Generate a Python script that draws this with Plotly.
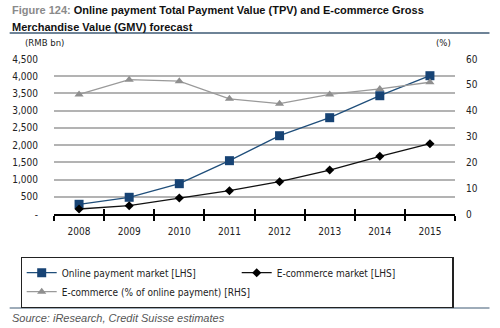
import plotly.graph_objects as go

years = ["2008", "2009", "2010", "2011", "2012", "2013", "2014", "2015"]
online_payment = [282, 485, 880, 1548, 2273, 2796, 3434, 4015]
ecommerce = [145, 241, 464, 677, 938, 1277, 1675, 2041]
ecom_pct = [46.3, 52.0, 51.4, 44.6, 42.7, 46.3, 48.4, 51.0]

left_ticks = [0, 500, 1000, 1500, 2000, 2500, 3000, 3500, 4000, 4500]
left_text = ["-", "500", "1,000", "1,500", "2,000", "2,500", "3,000", "3,500", "4,000", "4,500"]
right_ticks = [0, 10, 20, 30, 40, 50, 60]

W, H = 500, 328
L, R, T, B = 48, 45, 59, 114
PW, PH = W - L - R, H - T - B

def px(x):
    return (x - L) / PW

def py(y):
    return (H - B - y) / PH

NARROW = "DejaVu Sans Condensed, Liberation Sans Narrow, Liberation Sans, Arial"
SANS = "Liberation Sans, Arial"

fig = go.Figure()
fig.add_trace(go.Scatter(
    x=years, y=online_payment, name="Online payment market [LHS]",
    mode="lines+markers", line=dict(color="#1f4e7a", width=1.3),
    marker=dict(symbol="square", size=9, color="#174374"),
))
fig.add_trace(go.Scatter(
    x=years, y=ecommerce, name="E-commerce market [LHS]",
    mode="lines+markers", line=dict(color="#111111", width=1.3),
    marker=dict(symbol="diamond", size=7, color="#000000"),
))
fig.add_trace(go.Scatter(
    x=years, y=ecom_pct, name="E-commerce (% of online payment) [RHS]",
    mode="lines+markers", line=dict(color="#9a9a9a", width=1.3),
    marker=dict(symbol="triangle-up", size=8, color="#8f8f8f"),
    yaxis="y2",
))
fig.add_trace(go.Scatter(x=years, y=[None]*8, xaxis="x2", showlegend=False, hoverinfo="skip"))

fig.update_layout(
    width=W, height=H,
    margin=dict(l=L, r=R, t=T, b=B),
    paper_bgcolor="white", plot_bgcolor="white",
    font=dict(family=NARROW, size=10, color="#222"),
    showlegend=True,
    xaxis=dict(
        type="category", range=[-0.5, 7.5], showgrid=False,
        showline=True, linecolor="#000", linewidth=1.5,
        ticks="outside", tickson="boundaries", ticklen=5, tickwidth=1.5, tickcolor="#000",
        tickfont=dict(family=NARROW, size=10, color="#222"),
        ticklabelstandoff=7,
    ),
    xaxis2=dict(
        type="category", range=[-0.5, 7.5], overlaying="x", side="bottom",
        showgrid=False, showline=False, showticklabels=False,
        ticks="inside", tickson="boundaries", ticklen=5, tickwidth=1.5, tickcolor="#000",
    ),
    yaxis=dict(
        range=[0, 4500], tickvals=left_ticks, ticktext=left_text,
        showgrid=True, gridcolor="#b3b3b3", gridwidth=1.5,
        showline=False, zeroline=False, ticks="",
        tickfont=dict(family=NARROW, size=10, color="#222"),
        ticklabelstandoff=15,
    ),
    yaxis2=dict(
        range=[0, 60], tickvals=right_ticks, overlaying="y", side="right",
        showgrid=False, showline=False, zeroline=False, ticks="",
        tickfont=dict(family=NARROW, size=10, color="#222"),
        ticklabelstandoff=10,
    ),
    legend=dict(
        orientation="h", x=px(14), y=py(257), xanchor="left", yanchor="top",
        bordercolor="#222", borderwidth=1.2, bgcolor="white",
        entrywidth=170, entrywidthmode="pixels",
        font=dict(family=NARROW, size=10, color="#222"),
        itemwidth=30, tracegroupgap=0,
    ),
)

fig.add_annotation(
    x=px(3), y=py(10), xref="paper", yref="paper", xanchor="left", yanchor="middle",
    text="<b><span style='color:#8a8a8a'>Figure 124:</span> Online payment Total Payment Value (TPV) and E-commerce Gross</b>",
    showarrow=False, font=dict(family=SANS, size=11, color="#111"),
)
fig.add_annotation(
    x=px(3), y=py(27), xref="paper", yref="paper", xanchor="left", yanchor="middle",
    text="<b>Merchandise Value (GMV) forecast</b>",
    showarrow=False, font=dict(family=SANS, size=11, color="#111"),
)
fig.add_annotation(
    x=px(38), y=py(42), xref="paper", yref="paper", xanchor="center", yanchor="middle",
    text="(RMB bn)", showarrow=False, font=dict(family=NARROW, size=9.5, color="#222"),
)
fig.add_annotation(
    x=px(443), y=py(42), xref="paper", yref="paper", xanchor="center", yanchor="middle",
    text="(%)", showarrow=False, font=dict(family=NARROW, size=9.5, color="#222"),
)
fig.add_annotation(
    x=px(3), y=py(318), xref="paper", yref="paper", xanchor="left", yanchor="middle",
    text="<i>Source: iResearch, Credit Suisse estimates</i>", showarrow=False,
    font=dict(family=SANS, size=11, color="#555"),
)
fig.add_shape(type="line", xref="paper", yref="paper", x0=px(3), x1=px(490), y0=py(33), y1=py(33),
              line=dict(color="#3e5a74", width=1.3))
fig.add_shape(type="line", xref="paper", yref="paper", x0=px(3), x1=px(490), y0=py(308), y1=py(308),
              line=dict(color="#3e5a74", width=1.1))

fig.write_html("out.html")
